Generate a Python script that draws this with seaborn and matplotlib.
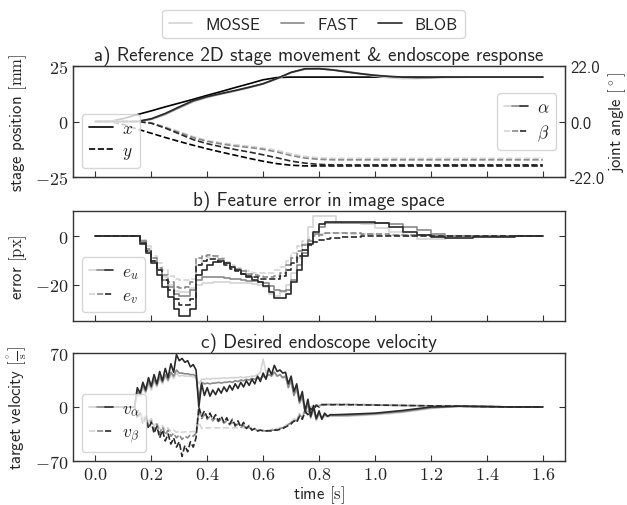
import matplotlib
matplotlib.use("Agg")
import matplotlib.pyplot as plt
import seaborn as sns
from matplotlib.lines import Line2D
from matplotlib.legend_handler import HandlerTuple
from matplotlib.ticker import FuncFormatter

trackers = ["MOSSE", "FAST", "BLOB"]
colors = {"MOSSE": "#d4d4d4", "FAST": "#8a8a8a", "BLOB": "#2a2a2a"}

# --- a) stage movement [mm] and joint angles [deg] ---
t_a = [0.0, 0.05, 0.1, 0.15, 0.2, 0.25, 0.3, 0.35, 0.4, 0.45, 0.5, 0.55, 0.6, 0.65, 0.7, 0.75, 0.8,
       0.85, 0.9, 0.95, 1.0, 1.05, 1.1, 1.15, 1.2, 1.25, 1.3, 1.35, 1.4, 1.45, 1.5, 1.55, 1.6]
ref_x = [0, 0, 1.3, 3.1, 4.8, 6.6, 8.3, 10.0, 11.8, 13.5, 15.3, 17.0, 18.8, 19.8, 20, 20, 20,
         20, 20, 20, 20, 20, 20, 20, 20, 20, 20, 20, 20, 20, 20, 20, 20]
ref_y = [0, 0, -1.4, -3.4, -5.3, -7.2, -9.0, -10.7, -12.3, -13.8, -15.2, -16.6, -17.9, -19.0, -19.7, -20, -20,
         -20, -20, -20, -20, -20, -20, -20, -20, -20, -20, -20, -20, -20, -20, -20, -20]
alpha = {
    "MOSSE": [0, 0, 0, 0, 0.8, 2.7, 5.3, 7.8, 9.5, 10.8, 12.0, 13.3, 14.8, 16.9, 19.3, 20.7, 20.9,
              20.4, 19.6, 18.8, 18.0, 17.3, 17.0, 17.0, 17.2, 17.4, 17.5, 17.6, 17.6, 17.6, 17.6, 17.6, 17.6],
    "FAST": [0, 0, 0, 0, 0.9, 2.9, 5.5, 8.0, 9.7, 11.0, 12.2, 13.5, 14.9, 17.0, 19.4, 20.8, 21.0,
             20.5, 19.8, 19.0, 18.3, 17.8, 17.5, 17.4, 17.5, 17.6, 17.6, 17.6, 17.6, 17.6, 17.6, 17.6, 17.6],
    "BLOB": [0, 0, 0, 0, 1.1, 3.2, 5.8, 8.3, 9.9, 11.1, 12.3, 13.6, 15.0, 17.1, 19.5, 20.9, 20.9,
             20.4, 19.6, 18.9, 18.3, 17.9, 17.6, 17.5, 17.5, 17.6, 17.6, 17.6, 17.6, 17.6, 17.6, 17.6, 17.6],
}
beta = {
    "MOSSE": [0, 0, 0, 0, -0.5, -2.1, -4.0, -6.0, -7.5, -8.4, -9.2, -9.8, -10.5, -11.4, -12.8, -13.9, -14.4,
              -14.6, -14.6, -14.6, -14.6, -14.6, -14.6, -14.6, -14.6, -14.6, -14.6, -14.6, -14.6, -14.6, -14.6, -14.6, -14.6],
    "FAST": [0, 0, 0, 0, -0.6, -2.4, -4.4, -6.4, -7.9, -8.9, -9.7, -10.3, -11.0, -12.1, -13.5, -14.5, -15.0,
             -15.2, -15.2, -15.2, -15.2, -15.2, -15.2, -15.2, -15.2, -15.2, -15.2, -15.2, -15.2, -15.2, -15.2, -15.2, -15.2],
    "BLOB": [0, 0, 0, 0, -0.7, -2.6, -4.9, -7.2, -8.8, -10.0, -11.1, -12.1, -13.2, -14.4, -15.7, -16.5, -17.0,
             -17.2, -17.2, -17.2, -17.2, -17.2, -17.2, -17.2, -17.2, -17.2, -17.2, -17.2, -17.2, -17.2, -17.2, -17.2, -17.2],
}

# --- b) feature error [px], step signals ---
t_b = [0.0, 0.14, 0.16, 0.18, 0.20, 0.22, 0.24, 0.26, 0.28, 0.30, 0.32, 0.34, 0.36, 0.38, 0.40, 0.42,
       0.44, 0.46, 0.48, 0.50, 0.52, 0.54, 0.56, 0.58, 0.60, 0.62, 0.64, 0.66, 0.68, 0.70, 0.72, 0.74,
       0.76, 0.78, 0.80, 0.82, 0.84, 0.86, 0.88, 0.90, 0.95, 1.00, 1.05, 1.10, 1.15, 1.20, 1.25, 1.30,
       1.35, 1.40, 1.45, 1.50, 1.55, 1.60]
e_u = {
    "MOSSE": [0, 0, -1.5, -5, -9, -13, -17, -20, -22.5, -23, -23, -21.5,
              -20, -19.5, -19.2, -19, -19, -19, -19.2, -19.5, -19.5, -19.5,
              -19.8, -20, -21, -24, -24.5, -23, -20, -15, -9, -3,
              4, 8.3, 8.5, 8.5, 8.5, 6.2, 5.8, 5.5,
              5, 3.5, 2, 0, -1.2, -1.2, -0.5, 0, 0, 0, 0, 0, 0, 0],
    "FAST": [0, 0, -2, -6, -10, -14, -18, -21, -24, -24.5, -24.5, -22,
             -18, -17, -16.8, -16.8, -17, -17.2, -17.5, -17.8, -18, -18.3,
             -18.6, -19, -19.5, -20.5, -22, -22.5, -22, -18, -12, -7,
             -2, 1, 4, 5.5, 5.8, 5.8, 5.8, 5.8,
             5.8, 5.5, 5, 4, 2.5, 1, 0.3, 0, 0, 0, 0, 0, 0, 0],
    "BLOB": [0, 0, -3, -7, -11, -16, -21, -25, -30, -33, -33, -30,
             -16, -14, -12, -10.5, -10, -11, -12.5, -14, -15.5, -17,
             -18, -19, -20.5, -23, -25.5, -25.5, -24, -19, -14, -8,
             -3, 2, 5, 6, 6.2, 6.2, 6.2, 6.2,
             6, 5.5, 4, 2, 0.5, -0.3, -0.5, -0.5, -0.4, -0.3, -0.2, 0, 0.2, 0.2],
}
e_v = {
    "MOSSE": [0, 0, -1.5, -4, -8, -11, -14, -16.5, -17.5, -18, -18, -17.5,
              -12, -9, -8.5, -8.5, -9, -10.5, -12, -13, -14, -14.5,
              -15, -15, -15, -15, -14, -12.5, -10, -7, -4, -2,
              -0.5, 0.5, 1.2, 1.5, 1.5, 1.5, 1.3, 1.2,
              1, 0.8, 0.6, 0.5, 0.4, 0.3, 0.3, 0.3, 0.3, 0.3, 0.3, 0.3, 0.3, 0.3],
    "FAST": [0, 0, -2, -5, -9, -13, -16, -19, -21, -21.5, -21, -19,
             -9, -8, -7.8, -8, -9.5, -11, -12.5, -13.5, -14.5, -15.5,
             -16, -16.5, -17, -17, -16.5, -15, -12, -9, -6, -3.5,
             -1.5, 0, 0.8, 1.3, 1.5, 1.5, 1.5, 1.4,
             1.2, 1, 0.8, 0.6, 0.5, 0.4, 0.3, 0.3, 0.3, 0.3, 0.3, 0.3, 0.3, 0.3],
    "BLOB": [0, 0, -2.5, -6, -10, -14, -18, -22, -26, -28.5, -28.5, -26,
             -12, -10, -9.5, -9.5, -10.5, -12, -13.5, -14.5, -15.5, -16.5,
             -17, -17.5, -17.8, -17.8, -17.5, -16.5, -14, -11, -8, -5.5,
             -3.5, -2.3, -1.5, -1, -0.7, -0.5, -0.3, -0.2,
             0, 0.2, 0.3, 0.3, 0.3, 0.3, 0.3, 0.3, 0.3, 0.3, 0.3, 0.3, 0.3, 0.3],
}

# --- c) desired endoscope velocity [deg/s] ---
t_c = [0.0,
       0.14, 0.15, 0.16, 0.17, 0.18, 0.19, 0.20, 0.21, 0.22, 0.23,
       0.24, 0.25, 0.26, 0.27, 0.28, 0.29, 0.30, 0.31, 0.32, 0.33,
       0.34, 0.35, 0.36, 0.37, 0.38, 0.39, 0.40, 0.41, 0.42, 0.43,
       0.44, 0.45, 0.46, 0.47, 0.48, 0.49, 0.50, 0.51, 0.52, 0.53,
       0.54, 0.55, 0.56, 0.57, 0.58, 0.59, 0.60, 0.61, 0.62, 0.63,
       0.64, 0.65, 0.66, 0.67, 0.68, 0.69, 0.70, 0.71, 0.72, 0.73,
       0.74, 0.75, 0.76, 0.77, 0.78, 0.79, 0.80, 0.81, 0.82, 0.83,
       0.84, 0.85, 0.86,
       0.9, 1.0, 1.1, 1.2, 1.3, 1.4, 1.5, 1.6]
v_a = {
    "MOSSE": [0,
              0, 15, 12, 25, 18, 30, 22, 34, 26, 37,
              30, 40, 33, 42, 37, 44, 40, 41, 40, 40,
              40, 39, 38, 30, 36, 36, 37, 36, 37, 37,
              37, 37, 38, 37, 38, 38, 38, 38, 39, 38,
              39, 39, 40, 40, 42, 45, 62, 45, 48, 42,
              46, 40, 42, 38, 38, 28, 32, 15, 22, 5,
              12, -6, 2, -14, -4, -18, -10, -15, -12, -13,
              -12, -12, -12,
              -12, -10, -7, -2, 1, 0.5, 0, 0],
    "FAST": [0,
             0, 20, 15, 28, 20, 33, 25, 36, 28, 40,
             32, 42, 35, 45, 40, 48, 44, 44, 43, 43,
             42, 42, 40, 10, 32, 30, 31, 30, 31, 31,
             32, 31, 32, 32, 33, 32, 34, 33, 35, 34,
             36, 35, 37, 36, 38, 37, 40, 38, 42, 40,
             45, 40, 42, 38, 40, 25, 35, 15, 25, 5,
             15, -8, 5, -14, -2, -16, -8, -14, -10, -12,
             -11, -11, -11,
             -11, -9, -6, -1, 1, 0.5, 0, 0],
    "BLOB": [0,
             0, 25, 18, 32, 22, 38, 27, 42, 30, 46,
             34, 50, 38, 56, 45, 68, 60, 63, 58, 60,
             52, 55, 48, 0, 30, 15, 25, 14, 22, 16,
             24, 18, 26, 20, 28, 22, 30, 24, 32, 26,
             34, 28, 36, 30, 40, 33, 44, 36, 50, 42,
             54, 46, 48, 44, 45, 30, 40, 20, 30, 8,
             20, -5, 10, -12, 2, -15, -5, -16, -8, -12,
             -10, -10, -10,
             -9.5, -8, -4.5, 0, 1, 0.5, 0, 0],
}
v_b = {
    "MOSSE": [0,
              0, -8, -5, -14, -10, -20, -15, -25, -20, -28,
              -24, -30, -27, -32, -30, -33, -31, -33, -32, -33,
              -32, -32, -31, -20, -28, -27, -27, -27, -27, -27,
              -27, -27, -27, -27, -27, -27, -27, -27, -27, -27,
              -27, -28, -28, -29, -29, -30, -30, -30, -30, -29,
              -29, -28, -27, -26, -24, -22, -20, -15, -16, -8,
              -12, -3, -6, 1, -1, 4, 2, 4, 4, 4,
              4, 4, 4,
              4, 3, 2, 1.5, 1, 0.5, 0, 0],
    "FAST": [0,
             0, -10, -6, -18, -12, -24, -18, -30, -22, -34,
             -26, -36, -30, -38, -34, -40, -36, -42, -38, -40,
             -36, -38, -34, -5, -15, -10, -16, -12, -18, -14,
             -19, -16, -21, -18, -23, -20, -25, -22, -26, -24,
             -28, -26, -30, -28, -31, -30, -31, -31, -31, -30,
             -30, -29, -28, -27, -25, -23, -20, -17, -18, -10,
             -14, -4, -8, 0, -2, 3, 1, 3, 3, 3,
             3, 3, 3,
             3, 2.5, 2, 1.5, 1, 0.5, 0, 0],
    "BLOB": [0,
             0, -15, -8, -22, -14, -28, -20, -34, -25, -40,
             -30, -44, -35, -48, -40, -52, -45, -64, -50, -58,
             -45, -52, -40, 0, -12, -5, -14, -8, -16, -10,
             -18, -12, -20, -14, -22, -16, -24, -18, -26, -20,
             -28, -24, -30, -28, -31, -30, -31, -31, -31, -31,
             -30, -30, -29, -28, -26, -24, -22, -18, -20, -12,
             -16, -6, -10, -2, -4, 2, 0, 3, 3, 3,
             3, 3, 3,
             3, 2.5, 2, 1.5, 1, 0.5, 0, 0],
}

sns.set_style("ticks", {"xtick.direction": "in", "ytick.direction": "in",
                        "axes.edgecolor": "#333333"})
plt.rcParams["font.family"] = ["cmss10", "DejaVu Sans"]
plt.rcParams["mathtext.fontset"] = "cm"
plt.rcParams["axes.unicode_minus"] = False
plt.rcParams["font.size"] = 12

fig = plt.figure(figsize=(6.27, 5.06), dpi=100)
L, W = 0.1164, 0.785
ax_a = fig.add_axes([L, 0.6482, W, 0.2194])
ax_b = fig.add_axes([L, 0.3636, W, 0.2174], sharex=ax_a)
ax_c = fig.add_axes([L, 0.0870, W, 0.2134], sharex=ax_a)
lw = 1.2
title_fs = 13.8

# panel a
sns.lineplot(x=t_a, y=ref_x, ax=ax_a, color="black", lw=lw)
sns.lineplot(x=t_a, y=ref_y, ax=ax_a, color="black", lw=lw, linestyle="--")
ax_a2 = ax_a.twinx()
for name in trackers:
    sns.lineplot(x=t_a, y=alpha[name], ax=ax_a2, color=colors[name], lw=lw)
    sns.lineplot(x=t_a, y=beta[name], ax=ax_a2, color=colors[name], lw=lw, linestyle="--")
ax_a.set_ylim(-25, 25)
ax_a.set_yticks([-25, 0, 25])
ax_a2.set_ylim(-22, 22)
ax_a2.set_yticks([-22, 0, 22])
ax_a2.set_yticklabels(["-22.0", "0.0", "22.0"])
ax_a.set_ylabel(r"stage position $[\mathrm{mm}]$")
ax_a2.set_ylabel(r"joint angle $[^\circ]$", labelpad=1)
ax_a.set_title("a) Reference 2D stage movement & endoscope response", fontsize=title_fs, pad=4)

# panel b
for name in trackers:
    sns.lineplot(x=t_b, y=e_u[name], ax=ax_b, color=colors[name], lw=lw, drawstyle="steps-post")
    sns.lineplot(x=t_b, y=e_v[name], ax=ax_b, color=colors[name], lw=lw, linestyle="--",
                 drawstyle="steps-post")
ax_b.set_ylabel(r"error $[\mathrm{px}]$")
ax_b.set_title("b) Feature error in image space", fontsize=title_fs, pad=4)

# panel c
for name in trackers:
    sns.lineplot(x=t_c, y=v_a[name], ax=ax_c, color=colors[name], lw=lw)
    sns.lineplot(x=t_c, y=v_b[name], ax=ax_c, color=colors[name], lw=lw, linestyle="--")
ax_c.set_ylim(-70, 70)
ax_c.set_yticks([-70, 0, 70])
ax_c.set_ylabel(r"target velocity $[\frac{{}^\circ}{\mathrm{s}}]$")
ax_c.set_xlabel(r"time $[\mathrm{s}]$", labelpad=1)
ax_c.set_title("c) Desired endoscope velocity", fontsize=title_fs, pad=4)
ax_c.set_xticks([0.0, 0.2, 0.4, 0.6, 0.8, 1.0, 1.2, 1.4, 1.6])
ax_c.set_xlim(-0.08, 1.68)

num = FuncFormatter(lambda v, p: f"${v:g}$")
for ax in (ax_a, ax_b, ax_c):
    ax.yaxis.set_major_formatter(num)
    ax.tick_params(length=4, width=0.8, color="#333333", labelsize=13, right=(ax is not ax_a))
    for s in ax.spines.values():
        s.set_linewidth(1.0)
ax_c.xaxis.set_major_formatter(FuncFormatter(lambda v, p: f"${v:.1f}$"))
ax_a.tick_params(labelbottom=False)
ax_b.tick_params(labelbottom=False)
ax_a2.tick_params(length=4, width=0.8, color="#333333", labelsize=12)

fig.align_ylabels([ax_a, ax_b, ax_c])

# legends
hmap = {tuple: HandlerTuple(ndivide=None, pad=0)}
def trio(ls):
    return tuple(Line2D([], [], color=colors[n], lw=lw, ls=ls) for n in trackers)

leg_kw = dict(handlelength=1.4, handletextpad=0.5, borderpad=0.4, labelspacing=0.4, fontsize=12.5)
leg_xy = ax_a2.legend([Line2D([], [], color="black", lw=lw), Line2D([], [], color="black", lw=lw, ls="--")],
                      [r"$x$", r"$y$"], loc="lower left", **leg_kw)
ax_a2.add_artist(leg_xy)
ax_a2.legend([trio("-"), trio("--")], [r"$\alpha$", r"$\beta$"], loc="center right",
             handler_map=hmap, **leg_kw)
ax_b.legend([trio("-"), trio("--")], [r"$e_u$", r"$e_v$"], loc="lower left",
            handler_map=hmap, **leg_kw)
ax_c.legend([trio("-"), trio("--")], [r"$v_\alpha$", r"$v_\beta$"], loc="lower left",
            handler_map=hmap, **leg_kw)

fig.legend([Line2D([], [], color=colors[n], lw=lw) for n in trackers], trackers,
           loc="upper center", bbox_to_anchor=(0.5, 0.995), ncol=3, handlelength=1.4,
           columnspacing=1.2)

fig.savefig("out.png", dpi=100)
